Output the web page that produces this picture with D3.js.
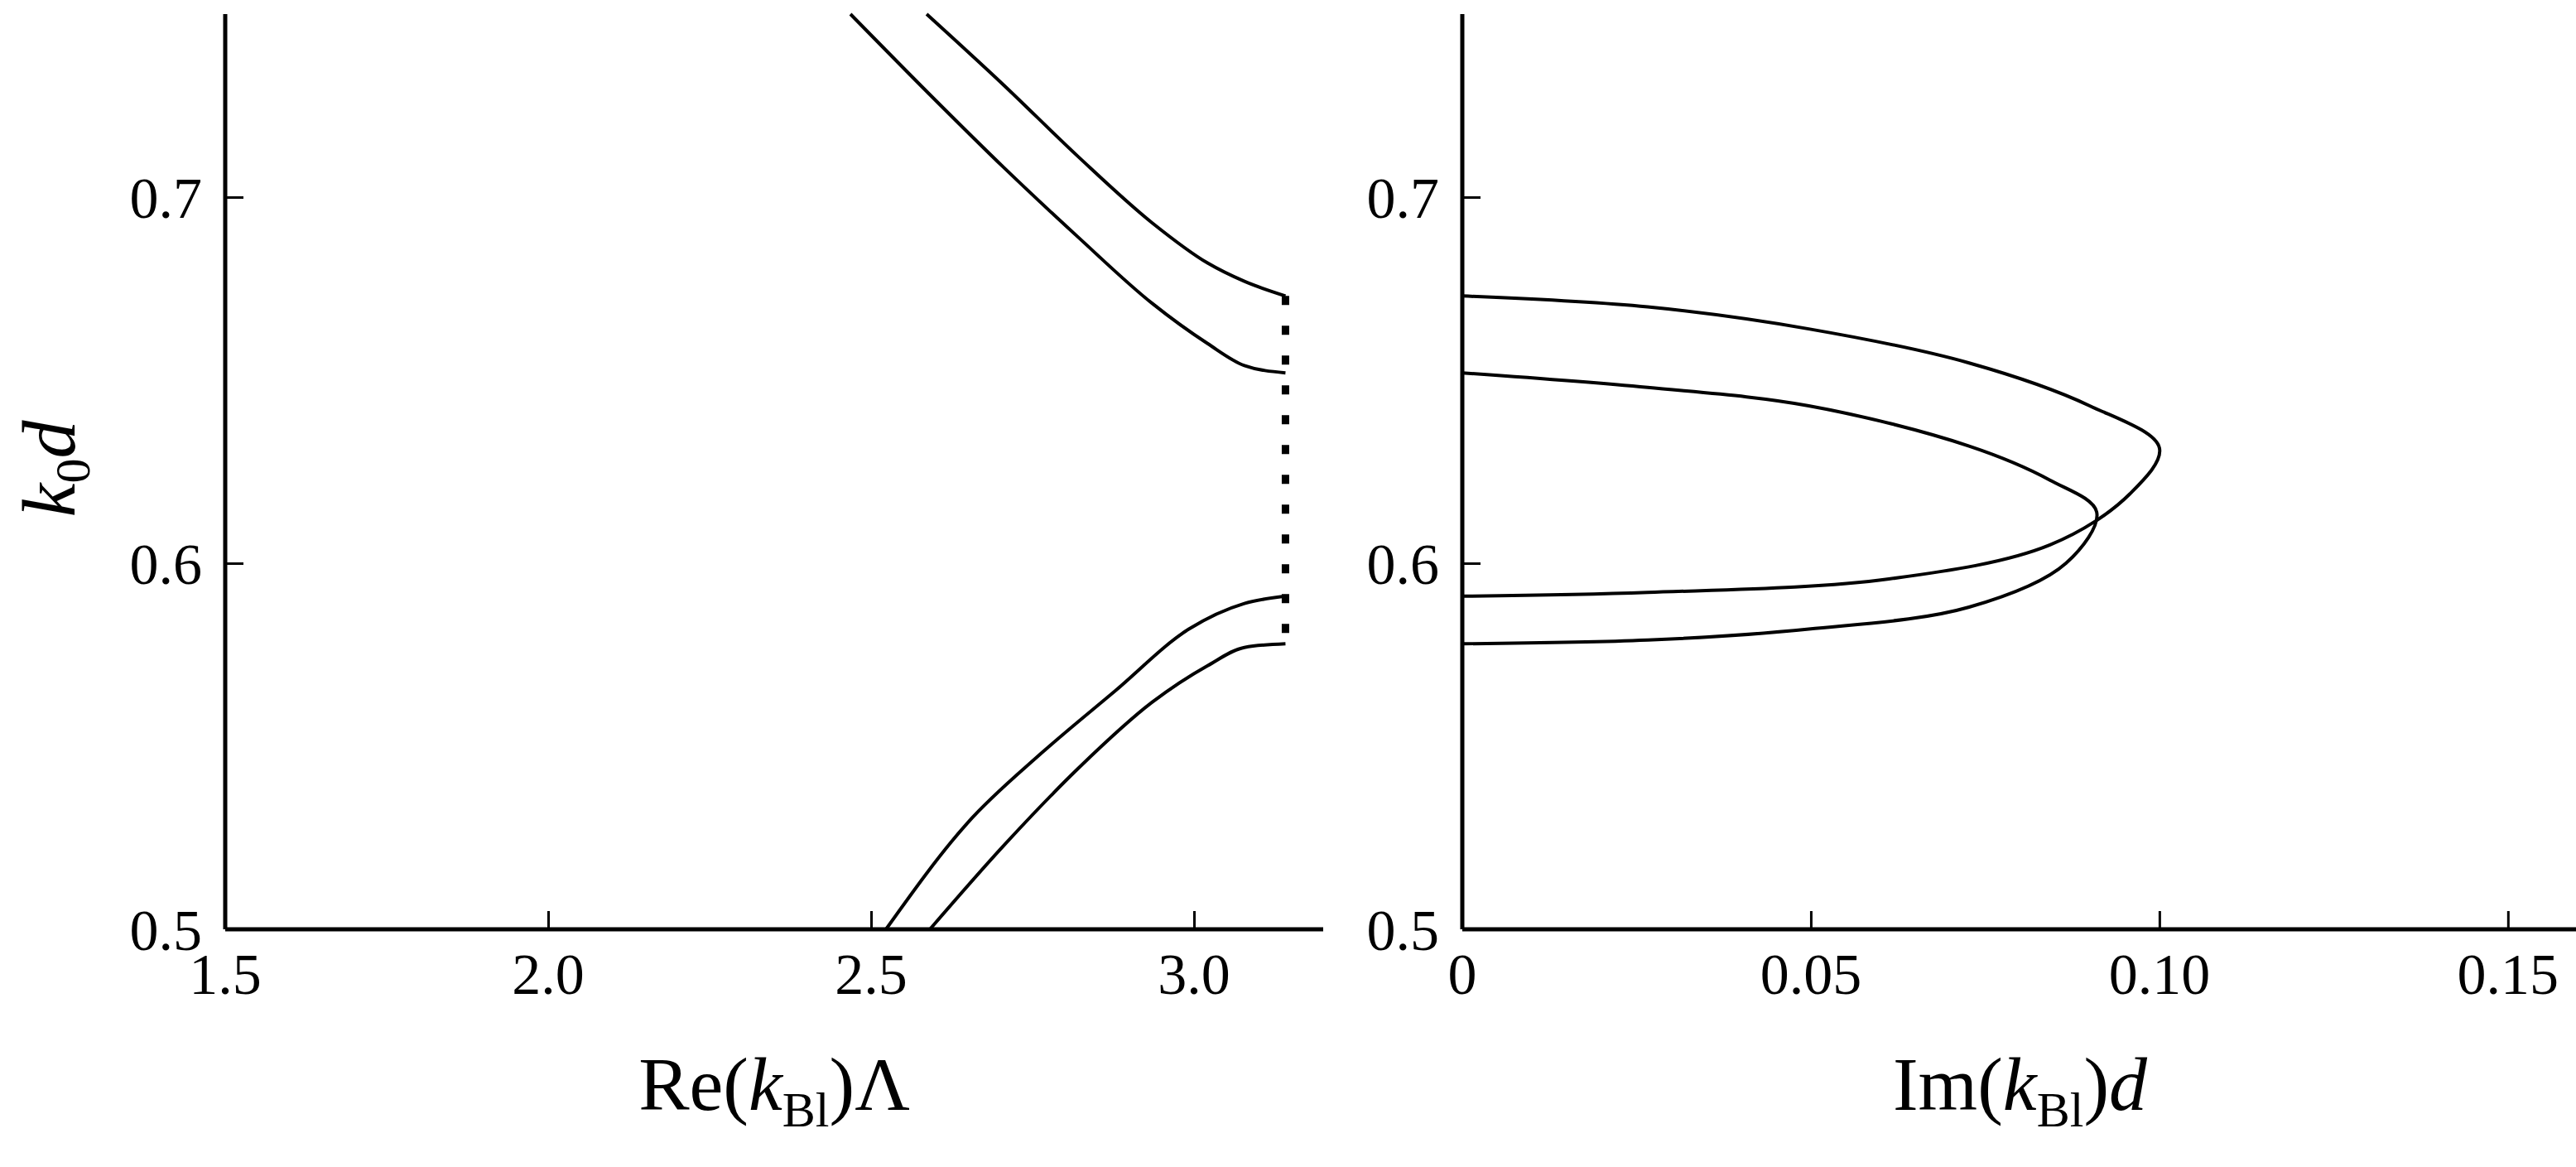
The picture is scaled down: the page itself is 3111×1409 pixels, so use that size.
<!DOCTYPE html>
<html>
<head>
<meta charset="utf-8">
<script src="https://cdn.jsdelivr.net/npm/d3@7"></script>
<style>
  body { margin: 0; background: #fff; }
  text { font-family: "Liberation Serif", "DejaVu Serif", serif; fill: #000; }
</style>
</head>
<body>
<div id="chart"></div>
<script>
// Left panel: Re(kBl)Λ vs k0d, four branches ending at pi
const reA = [[2.586, 0.750], [2.706, 0.7305], [2.821, 0.711], [2.935, 0.693], [3.021, 0.682], [3.078, 0.677], [Math.PI, 0.673]];
const reB = [[2.468, 0.750], [2.591, 0.728], [2.706, 0.708], [2.821, 0.689], [2.935, 0.671], [3.021, 0.660], [3.078, 0.654], [Math.PI, 0.652]];
const reC = [[2.523, 0.500], [2.649, 0.529], [2.763, 0.548], [2.877, 0.565], [2.992, 0.582], [3.078, 0.589], [Math.PI, 0.591]];
const reD = [[2.591, 0.500], [2.706, 0.523], [2.821, 0.544], [2.935, 0.562], [3.021, 0.572], [3.078, 0.577], [Math.PI, 0.578]];
const gapLine = [[Math.PI, 0.673], [Math.PI, 0.578]];

// Right panel: Im(kBl)d vs k0d, two loops
const imOuter = [[0, 0.673], [0.0266, 0.670], [0.0497, 0.664], [0.0727, 0.6547], [0.090, 0.643], [0.100, 0.6315],
  [0.0958, 0.619], [0.0843, 0.605], [0.0612, 0.5957], [0.0266, 0.592], [0, 0.591]];
const imInner = [[0, 0.652], [0.0266, 0.648], [0.0497, 0.643], [0.0727, 0.632], [0.0843, 0.6227], [0.091, 0.614],
  [0.0866, 0.600], [0.0727, 0.588], [0.0497, 0.582], [0.0266, 0.579], [0, 0.578]];

const yTicks = [0.5, 0.6, 0.7];
const xTicksLeft = [1.5, 2.0, 2.5, 3.0];
const xTicksRight = [0, 0.05, 0.10, 0.15];
const xTickLabelsRight = ["0", "0.05", "0.10", "0.15"];

const width = 3111;
const height = 1409;
const plotTop = 17, plotBottom = 1122;

const svg = d3.select("#chart").append("svg")
  .attr("width", width)
  .attr("height", height);

const y = d3.scaleLinear().domain([0.5, 0.75]).range([plotBottom, plotTop]);
const xL = d3.scaleLinear().domain([1.5, 3.2]).range([272, 1598]);
const xR = d3.scaleLinear().domain([0, 0.16]).range([1766, 3113]);

function drawPanel(x, xTicks, xFmt, title) {
  const g = svg.append("g");
  // x axis, ticks pointing inward
  const xa = g.append("g").attr("transform", `translate(0,${plotBottom})`)
    .call(d3.axisTop(x).tickValues(xTicks).tickSize(22).tickFormat(() => ""));
  xa.select(".domain").attr("stroke-width", 5).attr("d", `M${x.range()[0]},0H${x.range()[1]}`);
  xa.selectAll(".tick line").attr("stroke-width", 3);
  xa.selectAll(".tick").filter((d, i) => i === 0).select("line").remove();
  g.selectAll(".xlab").data(xTicks).enter().append("text")
    .attr("x", d => x(d)).attr("y", plotBottom + 78)
    .attr("text-anchor", "middle").attr("font-size", 70)
    .text((d, i) => xFmt(d, i));
  // y axis
  const ya = g.append("g").attr("transform", `translate(${x.range()[0]},0)`)
    .call(d3.axisRight(y).tickValues(yTicks).tickSize(22).tickFormat(() => ""));
  ya.select(".domain").attr("stroke-width", 5).attr("d", `M0,${plotTop}V${plotBottom}`);
  ya.selectAll(".tick line").attr("stroke-width", 3);
  g.selectAll(".ylab").data(yTicks).enter().append("text")
    .attr("x", x.range()[0] - 28).attr("y", d => y(d)).attr("dy", "0.35em")
    .attr("text-anchor", "end").attr("font-size", 70)
    .text(d3.format(".1f"));
  // axis title
  const t = g.append("text")
    .attr("x", (x.range()[0] + x.range()[1]) / 2).attr("y", plotBottom + 218)
    .attr("text-anchor", "middle").attr("font-size", 92);
  t.append("tspan").text(title[0]);
  t.append("tspan").attr("font-style", "italic").text("k");
  t.append("tspan").attr("font-size", 60).attr("dy", 20).text("Bl");
  t.append("tspan").attr("dy", -20).text(")");
  t.append("tspan").attr("font-style", title[2] ? "italic" : "normal").text(title[1]);
  return g;
}

drawPanel(xL, xTicksLeft, d => d3.format(".1f")(d), ["Re(", "Λ", false]);
drawPanel(xR, xTicksRight, (d, i) => xTickLabelsRight[i], ["Im(", "d", true]);

// y title
const yt = svg.append("text")
  .attr("transform", "translate(90,566) rotate(-90)")
  .attr("text-anchor", "middle").attr("font-size", 92);
yt.append("tspan").attr("font-style", "italic").text("k");
yt.append("tspan").attr("font-size", 60).attr("dy", 18).text("0");
yt.append("tspan").attr("font-style", "italic").attr("dy", -18).text("d");

const lineL = d3.line().x(d => xL(d[0])).y(d => y(d[1])).curve(d3.curveMonotoneX);
[reA, reB, reC, reD].forEach(s => {
  svg.append("path").attr("d", lineL(s)).attr("fill", "none")
    .attr("stroke", "#000").attr("stroke-width", 4);
});
svg.append("path").attr("d", d3.line().x(d => xL(d[0])).y(d => y(d[1]))(gapLine))
  .attr("fill", "none").attr("stroke", "#000").attr("stroke-width", 9)
  .attr("stroke-dasharray", "11 25");

const lineR = d3.line().x(d => xR(d[0])).y(d => y(d[1])).curve(d3.curveCatmullRom.alpha(0.5));
[imOuter, imInner].forEach(s => {
  svg.append("path").attr("d", lineR(s)).attr("fill", "none")
    .attr("stroke", "#000").attr("stroke-width", 4);
});
</script>
</body>
</html>
